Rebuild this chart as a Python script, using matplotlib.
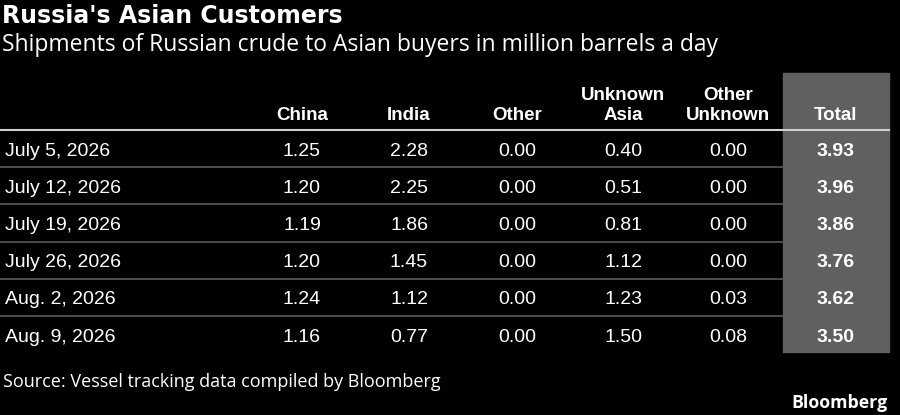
import matplotlib
matplotlib.use("Agg")
import matplotlib.pyplot as plt
from matplotlib.patches import Rectangle

title = "Russia's Asian Customers"
subtitle = "Shipments of Russian crude to Asian buyers in million barrels a day"
source = "Source: Vessel tracking data compiled by Bloomberg"

columns = ["China", "India", "Other", "Unknown\nAsia", "Other\nUnknown", "Total"]
weeks = ["July 5, 2026", "July 12, 2026", "July 19, 2026",
         "July 26, 2026", "Aug. 2, 2026", "Aug. 9, 2026"]
china = [1.25, 1.20, 1.19, 1.20, 1.24, 1.16]
india = [2.28, 2.25, 1.86, 1.45, 1.12, 0.77]
other = [0.00, 0.00, 0.00, 0.00, 0.00, 0.00]
unknown_asia = [0.40, 0.51, 0.81, 1.12, 1.23, 1.50]
other_unknown = [0.00, 0.00, 0.00, 0.00, 0.03, 0.08]
total = [3.93, 3.96, 3.86, 3.76, 3.62, 3.50]

W, H = 900, 415
fig = plt.figure(figsize=(W / 100, H / 100), dpi=100, facecolor="black")
ax = fig.add_axes([0, 0, 1, 1])
ax.set_xlim(0, W)
ax.set_ylim(H, 0)
ax.axis("off")
ax.set_facecolor("black")

body = "Liberation Sans"
col_x = [302, 409, 517, 623, 728, 836]
row_h = 37.2
top_line = 130

# grey total column
ax.add_patch(Rectangle((783, 73), 106, 279, color="#606060", zorder=0))

ax.text(2, 23, title, color="white", fontsize=17, fontweight="bold",
        family="DejaVu Sans", va="baseline")
ax.text(2, 51, subtitle, color="white", fontsize=16.5, family="Open Sans",
        va="baseline")

for x, name in zip(col_x, columns):
    ax.text(x, 120, name, color="white", fontsize=13.5, fontweight="bold",
            family=body, ha="center", va="baseline", linespacing=1.25)

ax.plot([0, 889], [top_line, top_line], color="#d0d0d0", lw=1.5)

values = [china, india, other, unknown_asia, other_unknown]
for i, week in enumerate(weeks):
    base = top_line + 25.6 + row_h * i
    ax.text(5, base, week, color="white", fontsize=14, family=body,
            va="baseline")
    for x, col in zip(col_x, values):
        ax.text(x, base, f"{col[i]:.2f}", color="white", fontsize=14,
                family=body, ha="center", va="baseline")
    ax.text(col_x[-1], base, f"{total[i]:.2f}", color="white", fontsize=14,
            fontweight="bold", family=body, ha="center", va="baseline")
    if i < len(weeks) - 1:
        y = top_line + row_h * (i + 1)
        ax.plot([0, 783], [y, y], color="#5a5a5a", lw=1.2)

ax.text(3, 387, source, color="white", fontsize=13, family="Open Sans",
        va="baseline")
ax.text(888, 408, "Bloomberg", color="white", fontsize=12.8,
        fontweight="bold", family="Open Sans", ha="right", va="baseline")

fig.savefig("out.png", dpi=100, facecolor="black")
